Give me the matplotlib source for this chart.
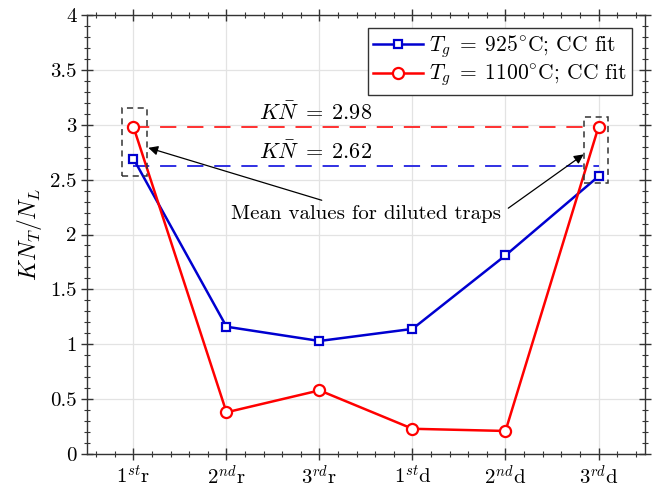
import matplotlib
matplotlib.use("Agg")
import matplotlib.pyplot as plt
from matplotlib.patches import Rectangle
from matplotlib.ticker import MultipleLocator, FormatStrFormatter
import numpy as np

plt.rcParams['font.family'] = 'serif'
plt.rcParams['font.serif'] = ['cmr10', 'DejaVu Serif']
plt.rcParams['mathtext.fontset'] = 'cm'
plt.rcParams['axes.formatter.use_mathtext'] = True

# data
traps = [r'$1^{st}$r', r'$2^{nd}$r', r'$3^{rd}$r', r'$1^{st}$d', r'$2^{nd}$d', r'$3^{rd}$d']
kn_925 = [2.69, 1.16, 1.03, 1.14, 1.81, 2.53]
kn_1100 = [2.98, 0.38, 0.58, 0.23, 0.21, 2.98]
mean_925 = 2.62
mean_1100 = 2.98
label_925 = r'$T_g\;=\;925^{\circ}\mathrm{C}$; CC fit'
label_1100 = r'$T_g\;=\;1100^{\circ}\mathrm{C}$; CC fit'

x = np.arange(1, len(traps) + 1)

fig = plt.figure(figsize=(6.61, 4.92), dpi=100)
ax = fig.add_axes([0.1316, 0.0772, 0.8442, 0.8923])

ax.grid(True, which='major', color='#e3e3e3', lw=0.9, zorder=0)

ax.plot([x[0], x[-1]], [mean_1100, mean_1100], color='#ff2020', lw=1.3, dashes=(9, 6), zorder=2)
ax.plot([x[0], x[-1]], [mean_925, mean_925], color='#2020e0', lw=1.3, dashes=(9, 6), zorder=2)

ax.plot(x, kn_925, color='#0000d0', lw=1.8, marker='s', ms=6, mfc='white', mew=1.6,
        label=label_925, zorder=3)
ax.plot(x, kn_1100, color='#ff0000', lw=1.8, marker='o', ms=8, mfc='white', mew=1.6,
        label=label_1100, zorder=3)

# dashed boxes around the end points
ax.add_patch(Rectangle((0.88, 2.53), 0.27, 0.62, fill=False, ec='#333333', lw=1.1,
                       ls=(0, (4, 3)), zorder=4))
ax.add_patch(Rectangle((5.84, 2.47), 0.26, 0.60, fill=False, ec='#333333', lw=1.1,
                       ls=(0, (4, 3)), zorder=4))

ax.text(2.96, mean_1100 + 0.03, r'$K\bar{N}\;=\;2.98$', ha='center', va='bottom', fontsize=16)
ax.text(2.96, mean_925 + 0.03, r'$K\bar{N}\;=\;2.62$', ha='center', va='bottom', fontsize=16)

ax.annotate('Mean values for diluted traps', xy=(1.16, 2.79), xytext=(3.5, 2.19),
            ha='center', va='center', fontsize=15,
            arrowprops=dict(arrowstyle='-|>', color='black', lw=0.9, mutation_scale=14,
                            shrinkA=4, shrinkB=0))
ax.annotate('', xy=(5.84, 2.73), xytext=(5.03, 2.24),
            arrowprops=dict(arrowstyle='-|>', color='black', lw=0.9, mutation_scale=14,
                            shrinkA=0, shrinkB=0))

ax.set_xlim(0.5, 6.5)
ax.set_ylim(0, 4)
ax.set_xticks(x)
ax.set_xticklabels(traps, fontsize=15)
ax.xaxis.set_minor_locator(MultipleLocator(0.2))
ax.yaxis.set_major_locator(MultipleLocator(0.5))
ax.yaxis.set_minor_locator(MultipleLocator(0.1))
ax.yaxis.set_major_formatter(FormatStrFormatter('%g'))
ax.tick_params(axis='y', labelsize=15)
ax.tick_params(which='both', direction='inout', top=True, right=True, color='#333333')
ax.tick_params(which='major', length=8, width=1)
ax.tick_params(which='minor', length=5, width=0.8)
for s in ax.spines.values():
    s.set_color('#333333')
    s.set_linewidth(1.0)

ax.set_ylabel(r'$KN_T/N_L$', fontsize=17)

leg = ax.legend(loc='upper right', fontsize=15.5, fancybox=False, edgecolor='#333333',
                framealpha=1, handlelength=2.3, borderpad=0.25, labelspacing=0.15,
                handletextpad=0.3, borderaxespad=0.6)
leg.get_frame().set_linewidth(1.0)

fig.savefig('out.png', dpi=100)
